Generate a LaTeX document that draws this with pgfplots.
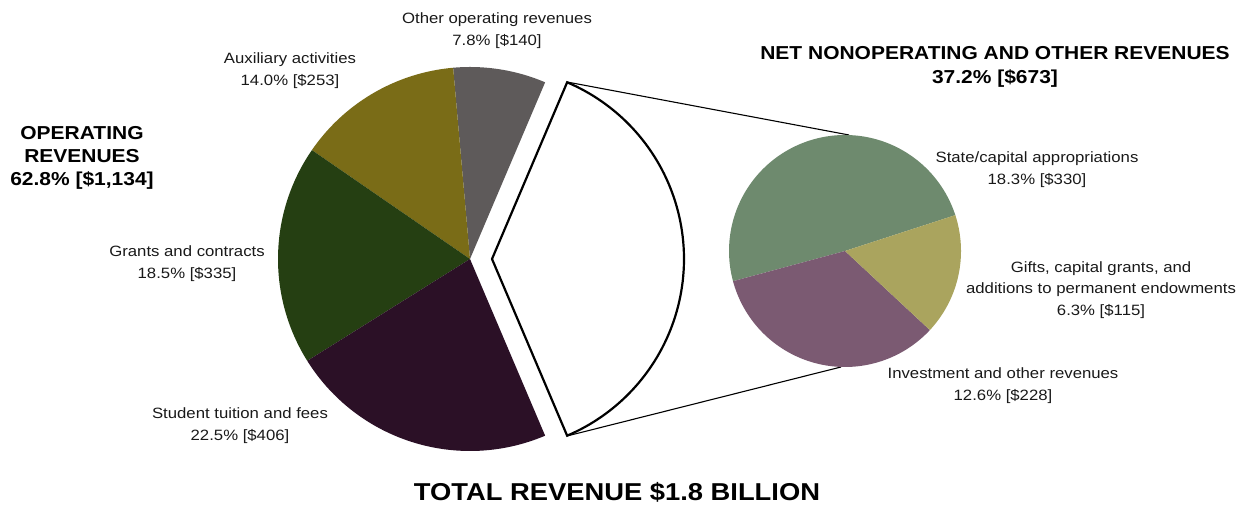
\documentclass[border=0pt]{standalone}
\usepackage{pgfplots}
\pgfplotsset{compat=1.18}
\usepackage{fontspec}
\setmainfont{Liberation Sans}[FakeStretch=1.12]

% revenue shares, percent of total
\def\pOther{7.8}
\def\pAux{14.0}
\def\pGrants{18.5}
\def\pTuition{22.5}
\def\pNet{37.2}
\def\pState{18.3}
\def\pInvest{12.6}
\def\pGifts{6.3}

\definecolor{cOther}{HTML}{5E5A5A}
\definecolor{cAux}{HTML}{7A6C17}
\definecolor{cGrants}{HTML}{253F12}
\definecolor{cTuition}{HTML}{2B1026}
\definecolor{cState}{HTML}{6E8A6E}
\definecolor{cGifts}{HTML}{AAA45E}
\definecolor{cInvest}{HTML}{7B5A72}

% slice: cx, cy, r, start angle, end angle, style
\newcommand\slice[6]{%
  \addplot[#6, domain=#4:#5, samples=90, variable=\t]
    ({#1+#3*cos(\t)},{#2+#3*sin(\t)}) -- (axis cs:#1,#2) -- cycle;
}

\begin{document}
\begin{tikzpicture}
\pgfmathsetmacro\aA{\pNet*1.8}            % half of the exploded slice
\pgfmathsetmacro\aB{\aA+\pOther*3.6}
\pgfmathsetmacro\aC{\aB+\pAux*3.6}
\pgfmathsetmacro\aD{\aC+\pGrants*3.6}
\pgfmathsetmacro\aE{\aD+\pTuition*3.6}
\pgfmathsetmacro\bA{18}
\pgfmathsetmacro\bB{\bA+\pState/\pNet*360}
\pgfmathsetmacro\bC{\bB+\pInvest/\pNet*360}
\pgfmathsetmacro\bD{\bC+\pGifts/\pNet*360}
\begin{axis}[
  name=ax,
  x=1bp, y=1bp,
  xmin=0, xmax=1239, ymin=0, ymax=506,
  hide axis, clip=false,
]
% left pie: operating revenues
\slice{470}{247}{192}{\aA}{\aB}{fill=cOther, draw=none}
\slice{470}{247}{192}{\aB}{\aC}{fill=cAux, draw=none}
\slice{470}{247}{192}{\aC}{\aD}{fill=cGrants, draw=none}
\slice{470}{247}{192}{\aD}{\aE}{fill=cTuition, draw=none}
% exploded nonoperating slice
\slice{492}{247}{192}{-\aA}{\aA}{fill=white, draw=black, line width=2.2bp, line join=miter}
% connectors
\addplot[black, line width=1.1bp] coordinates {(567,424) (849,371)};
\addplot[black, line width=1.1bp] coordinates {(567,70) (841,139)};
% right pie: nonoperating revenues
\slice{845}{255}{116}{\bA}{\bB}{fill=cState, draw=none}
\slice{845}{255}{116}{\bB}{\bC}{fill=cInvest, draw=none}
\slice{845}{255}{116}{\bC}{\bD}{fill=cGifts, draw=none}

% labels
\tikzset{lab/.style={align=center, text=black!90, font=\fontsize{15}{21.8}\selectfont, inner sep=0pt},
         head/.style={align=center, font=\fontsize{18.8}{23.5}\selectfont\bfseries, inner sep=0pt}}
\node[lab] at (axis cs:497,475) {Other operating revenues\\7.8\% [\$140]};
\node[lab] at (axis cs:290,435) {Auxiliary activities\\14.0\% [\$253]};
\node[head] at (axis cs:82,348) {OPERATING\\REVENUES\\62.8\% [\$1,134]};
\node[lab] at (axis cs:187,242) {Grants and contracts\\18.5\% [\$335]};
\node[lab] at (axis cs:240,80) {Student tuition and fees\\22.5\% [\$406]};
\node[head] at (axis cs:995,439) {NET NONOPERATING AND OTHER REVENUES\\37.2\% [\$673]};
\node[lab] at (axis cs:1037,336) {State/capital appropriations\\18.3\% [\$330]};
\node[lab] at (axis cs:1101,216) {Gifts, capital grants, and\\additions to permanent endowments\\6.3\% [\$115]};
\node[lab] at (axis cs:1003,120) {Investment and other revenues\\12.6\% [\$228]};
\node[font=\fontsize{24.5}{29}\selectfont\bfseries, inner sep=0pt] at (axis cs:617,14) {TOTAL REVENUE \$1.8 BILLION};
\end{axis}
\pgfresetboundingbox
\useasboundingbox (ax.south west) rectangle (ax.north east);
\end{tikzpicture}
\end{document}
